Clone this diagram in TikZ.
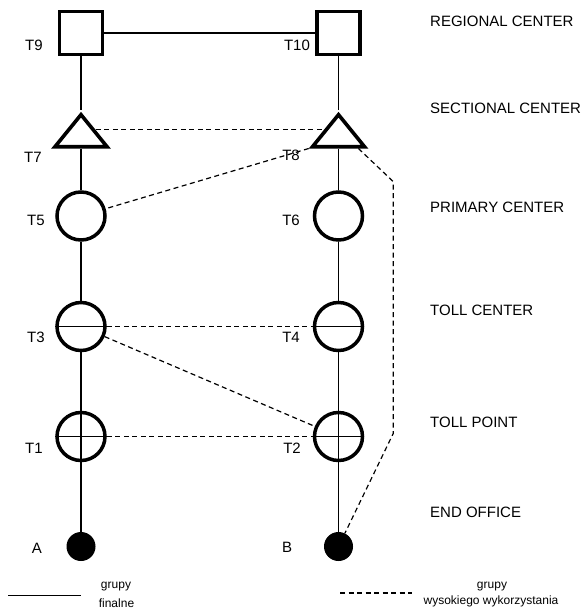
\documentclass[tikz,border=0pt]{standalone}
\usepackage{fontspec}
\setmainfont{Liberation Sans}
\usetikzlibrary{shapes.geometric,calc}
\begin{document}
\begin{tikzpicture}[x=1pt,y=-1pt,
  link/.style={line width=1.2pt},
  hulink/.style={line width=1.2pt, dash pattern=on 5pt off 3.5pt},
  regional/.style={draw, rectangle, line width=3.6pt, minimum size=43pt, inner sep=0pt},
  sectional/.style={draw, isosceles triangle, shape border rotate=90,
    isosceles triangle stretches, minimum width=52pt, minimum height=32pt,
    line width=3.6pt, inner sep=0pt},
  exchange/.style={draw, circle, line width=3.5pt, minimum size=48pt, inner sep=0pt},
  endoffice/.style={circle, fill=black, minimum size=29pt, inner sep=0pt},
  tag/.style={font=\fontsize{15}{15}\selectfont, inner sep=0pt},
  level/.style={font=\fontsize{15}{15}\selectfont, anchor=west, inner sep=0pt},
  legendtext/.style={font=\fontsize{12}{12}\selectfont, anchor=base, inner sep=0pt}
]
\useasboundingbox (0,0) rectangle (584,612);

% exchanges, left chain
\node[regional] (T9) at (81,33) {};
\node[sectional, anchor=apex] (T7) at (81,110) {};
\node[exchange] (T5) at (81,216) {};
\node[exchange] (T3) at (81,326.5) {};
\node[exchange] (T1) at (81,436.5) {};
\node[endoffice] (A) at (81,546.5) {};

% exchanges, right chain
\node[regional] (T10) at (338.5,33) {};
\node[sectional, anchor=apex] (T8) at (338.5,110) {};
\node[exchange] (T6) at (338.5,216) {};
\node[exchange] (T4) at (338.5,326.5) {};
\node[exchange] (T2) at (338.5,436.5) {};
\node[endoffice] (B) at (338.5,546.5) {};

% exchange names
\node[tag] (lT9) at (34,45.7) {T9};
\node[tag] (lT7) at (33,157) {T7};
\node[tag] (lT5) at (36,220) {T5};
\node[tag] (lT3) at (36,337) {T3};
\node[tag] (lT1) at (34,448) {T1};
\node[tag] (lA) at (37,548) {A};
\node[tag] (lT10) at (297,45.7) {T10};
\node[tag] (lT8) at (291,155.5) {T8};
\node[tag] (lT6) at (291,220) {T6};
\node[tag] (lT4) at (291,337) {T4};
\node[tag] (lT2) at (292,448) {T2};
\node[tag] (lB) at (287,547) {B};

% hierarchy levels
\node[level] (h1) at (430,21) {REGIONAL CENTER};
\node[level] (h2) at (430,108) {SECTIONAL CENTER};
\node[level] (h3) at (430,207) {PRIMARY CENTER};
\node[level] (h4) at (430,310) {TOLL CENTER};
\node[level] (h5) at (430,422) {TOLL POINT};
\node[level] (h6) at (430,512) {END OFFICE};

% final trunk groups
\draw[link] (T9) -- (T10);
\draw[link] (T9) -- (T7);
\draw[link] (T7) -- (T5);
\draw[link] (T5) -- (T3);
\draw[link] (T3) -- (A);
\draw[link] (T10) -- (T8);
\draw[link] (T8) -- (T6);
\draw[link] (T6) -- (T4);
\draw[link] (T4) -- (B);
\draw[link] (T3.west) -- (T3.east);
\draw[link] (T4.west) -- (T4.east);
\draw[link] (T1.west) -- (T1.east);
\draw[link] (T2.west) -- (T2.east);

% high-usage trunk groups
\coordinate (k1) at (393.3,181.7);
\coordinate (k2) at (393.3,433.3);
\draw[hulink] (T7.right side) -- (T8.left side);
\draw[hulink] (T8.left corner) -- (T5);
\draw[hulink] ($(T8.lower side)!0.67!(T8.right corner)$) -- (k1) -- (k2) -- (B);
\draw[hulink] (T3.east) -- (T4.west);
\draw[hulink] (T3) -- (T2);
\draw[hulink] (T1.east) -- (T2.west);

% legend
\coordinate (s1) at (8,595.5);
\coordinate (s2) at (81,595.5);
\draw[link] (s1) -- (s2);
\node[legendtext] (g1) at (116,588) {grupy};
\node[legendtext] (g2) at (116.5,607) {finalne};
\coordinate (d1) at (340,593);
\coordinate (d2) at (412,593);
\draw[hulink] (d1) -- (d2);
\node[legendtext] (g3) at (492,588) {grupy};
\node[legendtext] (g4) at (491,604.5) {wysokiego wykorzystania};
\end{tikzpicture}
\end{document}
